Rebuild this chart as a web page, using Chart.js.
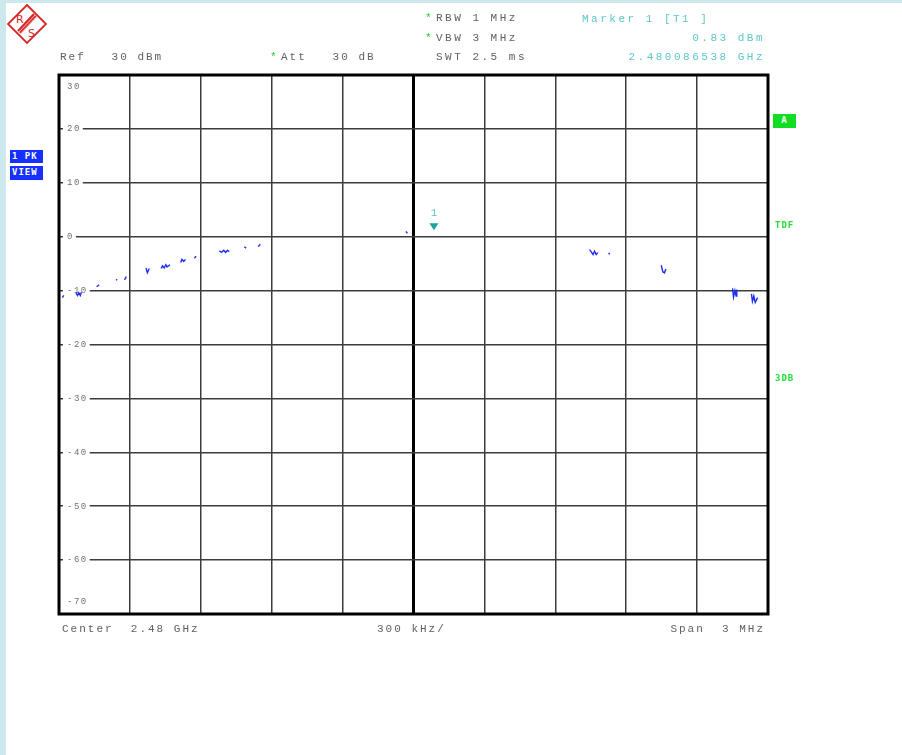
<!DOCTYPE html>
<html>
<head>
<meta charset="utf-8">
<script src="https://cdn.jsdelivr.net/npm/chart.js@4"></script>
<style>
  html, body { margin: 0; padding: 0; }
  body { width: 902px; height: 755px; background: #cde9ee; position: relative; overflow: hidden; }
  #panel { position: absolute; left: 6px; top: 3px; right: 0; bottom: 0; background: #fff; }
  #wrap { position: absolute; left: 0; top: 0; width: 902px; height: 755px; }
  .t { position: absolute; font-family: "Liberation Mono", monospace; font-size: 11px; line-height: 12px;
       white-space: pre; color: #606060; letter-spacing: 2px; }
  .hd { letter-spacing: 2.5px; }
  .cy { color: #5cc6c6; }
  .st { color: #22cc22; letter-spacing: 0; }
  .box { position: absolute; font-family: "DejaVu Sans Mono", monospace; font-weight: bold; font-size: 9px;
         line-height: 13px; color: #fff; letter-spacing: 1px; padding-left: 2px; }
  .gr { position: absolute; font-family: "DejaVu Sans Mono", monospace; font-weight: bold; font-size: 9px;
        line-height: 12px; color: #22dd33; letter-spacing: 1px; }
</style>
</head>
<body>
<div id="panel"></div>
<svg style="position:absolute;left:6px;top:3px" width="42" height="42" viewBox="0 0 42 42">
  <polygon points="21,2 40,21 21,40 2,21" fill="#fff" stroke="#d62828" stroke-width="1.8"/>
  <line x1="29" y1="12" x2="13" y2="29" stroke="#d62828" stroke-width="5"/>
  <line x1="29" y1="12" x2="13" y2="29" stroke="#fff" stroke-width="0.7"/>
  <line x1="30.5" y1="13.5" x2="14.5" y2="30.5" stroke="#fff" stroke-width="0.5"/>
  <text x="10" y="20" font-family="DejaVu Sans" font-size="11" fill="#d62828">R</text>
  <text x="22" y="34" font-family="DejaVu Sans" font-size="11" fill="#d62828">S</text>
</svg>
<div id="wrap"><canvas id="spec" width="902" height="755"></canvas></div>

<div class="t" style="left:60px;top:51px">Ref   30 dBm</div>
<div class="t st" style="left:270px;top:51px">*</div>
<div class="t" style="left:281px;top:51px">Att   30 dB</div>
<div class="t st" style="left:425px;top:12px">*</div>
<div class="t hd" style="left:436px;top:12px">RBW 1 MHz</div>
<div class="t st" style="left:425px;top:32px">*</div>
<div class="t hd" style="left:436px;top:32px">VBW 3 MHz</div>
<div class="t hd" style="left:436px;top:51px">SWT 2.5 ms</div>
<div class="t hd cy" style="left:582px;top:13px">Marker 1 [T1 ]</div>
<div class="t hd cy" style="right:137px;top:32px">0.83 dBm</div>
<div class="t hd cy" style="right:137px;top:51px">2.480086538 GHz</div>

<div class="box" style="left:10px;top:150px;width:31px;height:13px;background:#1530ff">1 PK</div>
<div class="box" style="left:10px;top:166px;width:31px;height:14px;background:#1530ff">VIEW</div>
<div class="box" style="left:773px;top:114px;width:23px;height:14px;background:#11dd22;text-align:center;padding-left:0">A</div>
<div class="gr" style="left:775px;top:219px">TDF</div>
<div class="gr" style="left:775px;top:372px">3DB</div>

<div class="t" style="left:62px;top:623px">Center  2.48 GHz</div>
<div class="t" style="left:377px;top:623px">300 kHz/</div>
<div class="t" style="right:137px;top:623px">Span  3 MHz</div>

<script>
// frequency offset from center (kHz) and level (dBm); null = gap in the trace
const traceFreq = [
  -1486, -1480, null,
  -1428, -1422, -1416, -1410, -1405, null,
  -1341, -1330, null,
  -1258, -1254, null,
  -1223, -1215, null,
  -1132, -1126, -1118, null,
  -1068, -1062, -1055, -1048, -1043, -1030, null,
  -985, -980, -972, -965, null,
  -927, -920, null,
  -822, -812, -803, -795, -787, -780, null,
  -716, -708, null,
  -657, -648, null,
  -32, -26, null,
  745, 752, 760, 766, 773, 780, null,
  826, 830, null,
  1048, 1055, 1062, 1068, null,
  1350, 1354, 1360, 1365, 1368, null,
  1430, 1434, 1440, 1446, 1456
];
const traceLevel = [
  -11.3, -10.9, null,
  -10.4, -10.9, -10.4, -10.9, -10.3, null,
  -9.3, -8.9, null,
  -8.1, -7.9, null,
  -8.0, -7.4, null,
  -5.8, -6.7, -5.9, null,
  -5.9, -5.4, -5.8, -5.2, -5.6, -5.2, null,
  -4.8, -4.2, -4.6, -4.2, null,
  -4.0, -3.6, null,
  -2.6, -2.9, -2.5, -2.9, -2.5, -2.8, null,
  -1.9, -2.1, null,
  -1.8, -1.4, null,
  1.0, 0.6, null,
  -2.4, -2.8, -3.3, -2.7, -3.3, -3.0, null,
  -3.0, -3.3, null,
  -5.3, -6.5, -6.7, -6.0, null,
  -9.6, -11.2, -10.0, -11.0, -9.8, null,
  -10.6, -12.0, -11.0, -12.2, -11.3
];
const markerFreq = [86.538];
const markerLevel = [0.83];
const markerNames = ['1'];
const levelTicks = [30, 20, 10, 0, -10, -20, -30, -40, -50, -60, -70];

const rsPlugin = {
  id: 'rsPlugin',
  beforeDatasetsDraw(chart) {
    const ctx = chart.ctx, y = chart.scales.y, a = chart.chartArea;
    ctx.save();
    ctx.font = '9px "Liberation Mono"';
    ctx.letterSpacing = '1.5px';
    ctx.textBaseline = 'middle';
    levelTicks.forEach(v => {
      let py = y.getPixelForValue(v);
      if (v === levelTicks[0]) py += 12;
      if (v === levelTicks[levelTicks.length - 1]) py -= 12;
      const txt = String(v);
      const w = ctx.measureText(txt).width;
      const x0 = a.left + 8;
      ctx.fillStyle = '#fff';
      ctx.fillRect(x0 - 4, py - 4, w + 6, 8);
      ctx.fillStyle = '#707070';
      ctx.fillText(txt, x0, py);
    });
    ctx.restore();
  },
  afterDatasetsDraw(chart) {
    const ctx = chart.ctx;
    const meta = chart.getDatasetMeta(1);
    ctx.save();
    meta.data.forEach((pt, i) => {
      const x = pt.x, py = pt.y;
      ctx.fillStyle = '#17a3a3';
      ctx.beginPath();
      ctx.moveTo(x - 4.5, py - 9);
      ctx.lineTo(x + 4.5, py - 9);
      ctx.lineTo(x, py - 2);
      ctx.closePath();
      ctx.fill();
      ctx.fillStyle = '#5cc6c6';
      ctx.font = '11px "Liberation Mono"';
      ctx.textAlign = 'center';
      ctx.textBaseline = 'middle';
      ctx.fillText(markerNames[i], x, py - 19);
    });
    ctx.restore();
  },
  afterDraw(chart) {
    const ctx = chart.ctx, a = chart.chartArea;
    ctx.save();
    ctx.strokeStyle = '#000';
    ctx.lineWidth = 3;
    ctx.strokeRect(a.left, a.top, a.right - a.left, a.bottom - a.top);
    ctx.restore();
  }
};

new Chart(document.getElementById('spec'), {
  type: 'line',
  data: {
    datasets: [{
      label: 'Trace 1',
      data: traceFreq.map((f, i) => ({ x: f, y: traceLevel[i] })),
      borderColor: '#1f2fee',
      borderWidth: 1.4,
      pointRadius: 0,
      spanGaps: false,
      tension: 0
    }, {
      label: 'Marker 1',
      data: markerFreq.map((f, i) => ({ x: f, y: markerLevel[i] })),
      showLine: false,
      pointRadius: 0
    }]
  },
  options: {
    responsive: false,
    animation: false,
    layout: { padding: { left: 59, right: 134, top: 75, bottom: 141 } },
    plugins: { legend: { display: false }, tooltip: { enabled: false } },
    scales: {
      x: {
        type: 'linear',
        min: -1500, max: 1500,
        ticks: { display: false, stepSize: 300 },
        border: { display: false },
        grid: {
          drawTicks: false,
          color: ctx => ctx.tick && ctx.tick.value === 0 ? '#000' : '#3c3c3c',
          lineWidth: ctx => ctx.tick && ctx.tick.value === 0 ? 3 : 1.5
        }
      },
      y: {
        type: 'linear',
        min: -70, max: 30,
        ticks: { display: false, stepSize: 10 },
        border: { display: false },
        grid: { drawTicks: false, color: '#3c3c3c', lineWidth: 1.5 }
      }
    }
  },
  plugins: [rsPlugin]
});
</script>
</body>
</html>
